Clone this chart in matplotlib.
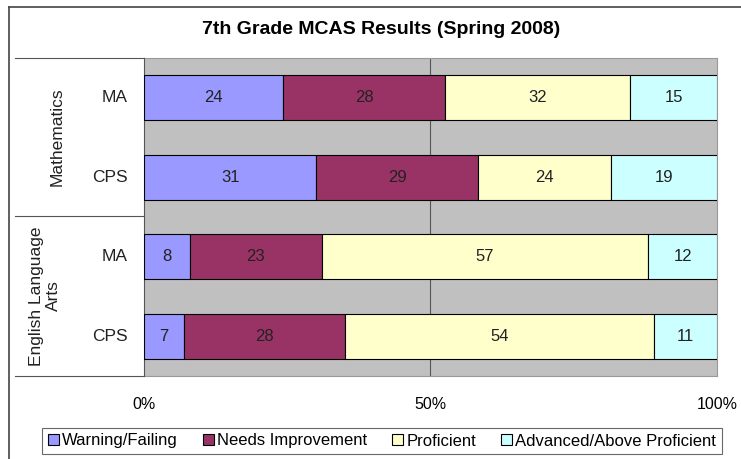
import matplotlib.pyplot as plt
from matplotlib.lines import Line2D
from matplotlib.patches import Patch
import numpy as np

plt.rcParams['font.family'] = ['Liberation Sans', 'DejaVu Sans']

subjects = ["Mathematics", "English Language\nArts"]
groups = ["MA", "CPS", "MA", "CPS"]
levels = ["Warning/Failing", "Needs Improvement", "Proficient", "Advanced/Above Proficient"]
colors = ["#9999FF", "#993366", "#FFFFCC", "#CCFFFF"]

warning = [24, 31, 8, 7]
needs = [28, 29, 23, 28]
proficient = [32, 24, 57, 54]
advanced = [15, 19, 12, 11]

W, H = 741, 459
fig = plt.figure(figsize=(W / 100, H / 100), dpi=100)

# plot area in pixels: x 144..717, y 58..376
ax = fig.add_axes([144 / W, 1 - 376 / H, (717 - 144) / W, (376 - 58) / H])
ax.set_facecolor("#C0C0C0")

data = np.array([warning, needs, proficient, advanced], dtype=float)
pct = data / data.sum(axis=0) * 100
ypos = np.arange(len(groups))[::-1]

left = np.zeros(len(groups))
for i in range(len(levels)):
    ax.barh(ypos, pct[i], left=left, height=0.57, color=colors[i],
            edgecolor="black", linewidth=0.8, zorder=3, label=levels[i])
    for y, l, w, v in zip(ypos, left, pct[i], data[i]):
        ax.text(l + w / 2, y, str(int(v)), ha="center", va="center",
                fontsize=12, color="#222222", zorder=4)
    left += pct[i]

ax.set_xlim(0, 100)
ax.set_ylim(-0.5, 3.5)
ax.axvline(50, color="#555555", linewidth=0.8, zorder=1)
ax.set_xticks([0, 50, 100])
ax.set_xticklabels(["0%", "50%", "100%"], fontsize=11.5)
ax.tick_params(axis="x", length=0, pad=15)
ax.set_yticks([])
for s in ["top", "right", "bottom"]:
    ax.spines[s].set_color("#999999")
    ax.spines[s].set_linewidth(0.8)
ax.spines["left"].set_color("#555555")

# category labels
for y, g in zip(ypos, groups):
    ax.text(-2.8, y, g, ha="right", va="center",
            fontsize=12.5, color="#222222", clip_on=False)

fig.text(57 / W, 1 - 137 / H, subjects[0], rotation=90, ha="center", va="center",
         fontsize=12.5, color="#222222")
fig.text(45 / W, 1 - 296 / H, subjects[1], rotation=90, ha="center", va="center",
         fontsize=12.5, color="#222222", linespacing=1.1)

for yy in [58, 216, 376]:
    fig.add_artist(Line2D([15 / W, 144 / W], [1 - yy / H, 1 - yy / H],
                          color="#555555", linewidth=0.8))

# outer frame
fig.add_artist(Line2D([9 / W, 9 / W], [0, 1 - 7 / H], color="#444444", linewidth=1.2))
fig.add_artist(Line2D([9 / W, 1], [1 - 7 / H, 1 - 7 / H], color="#444444", linewidth=1.2))

fig.text(381 / W, 1 - 30 / H, "7th Grade MCAS Results (Spring 2008)",
         ha="center", va="center", fontsize=14, fontweight="bold")

handles = [Patch(facecolor=c, edgecolor="black", linewidth=0.8) for c in colors]
leg = fig.legend(handles, levels, loc="center", bbox_to_anchor=(382 / W, 1 - 441 / H),
                 ncol=4, fontsize=12, frameon=True, fancybox=False,
                 handlelength=0.65, handleheight=0.65, handletextpad=0.2,
                 columnspacing=1.5, borderpad=0.35, borderaxespad=0)
leg.get_frame().set_edgecolor("#444444")
leg.get_frame().set_linewidth(0.8)

fig.savefig("out.png", dpi=100)
